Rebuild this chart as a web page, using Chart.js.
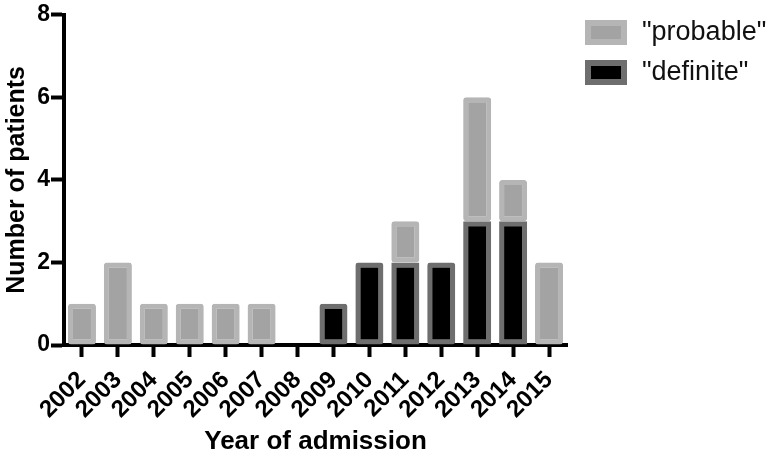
<!DOCTYPE html>
<html>
<head>
<meta charset="utf-8">
<script src="https://cdn.jsdelivr.net/npm/chart.js@4"></script>
<style>
  html, body { margin: 0; padding: 0; background: #fff; }
  #wrap { width: 774px; height: 457px; }
</style>
</head>
<body>
<div id="wrap"><canvas id="chart"></canvas></div>
<script>
const years = ['2002', '2003', '2004', '2005', '2006', '2007', '2008', '2009', '2010', '2011', '2012', '2013', '2014', '2015'];
const definite = [0, 0, 0, 0, 0, 0, 0, 1, 2, 2, 2, 3, 3, 0];
const probable = [1, 2, 1, 1, 1, 1, 0, 0, 0, 1, 0, 3, 1, 2];
const yTicks = [0, 2, 4, 6, 8];

const probFill = '#a3a3a3';
const probBorder = '#b5b5b5';
const defFill = '#000000';
const defBorder = '#6e6e6e';
const font = "'Liberation Sans', Arial, sans-serif";

// legend drawn by hand so the boxes and labels sit where the original has them
const sideLegend = {
  id: 'sideLegend',
  afterDraw(chart) {
    const ctx = chart.ctx;
    const items = [
      { text: '"probable"', fill: probFill, stroke: probBorder },
      { text: '"definite"', fill: defFill, stroke: defBorder }
    ];
    ctx.save();
    items.forEach((it, i) => {
      const y = 20 + i * 40;
      ctx.fillStyle = it.stroke;
      ctx.fillRect(585, y, 42, 25);
      ctx.fillStyle = it.fill;
      ctx.fillRect(591, y + 6, 30, 13);
      ctx.fillStyle = '#111';
      ctx.font = '27px ' + font;
      ctx.textBaseline = 'middle';
      ctx.fillText(it.text, 642, y + 13);
    });
    ctx.restore();
  }
};

const ctx = document.getElementById('chart').getContext('2d');
const chart = new Chart(ctx, {
  type: 'bar',
  data: {
    labels: years,
    datasets: [{
      label: '"definite"',
      data: definite,
      backgroundColor: defFill,
      borderColor: defBorder,
      borderWidth: 5,
      borderRadius: 3,
      borderSkipped: false,
      barPercentage: 0.78,
      categoryPercentage: 1
    }, {
      label: '"probable"',
      data: probable,
      backgroundColor: probFill,
      borderColor: probBorder,
      borderWidth: 5,
      borderRadius: 3,
      borderSkipped: false,
      barPercentage: 0.78,
      categoryPercentage: 1
    }]
  },
  options: {
    responsive: true,
    maintainAspectRatio: false,
    animation: false,
    layout: { padding: { top: 12, right: 207, left: 0, bottom: 0 } },
    plugins: {
      legend: { display: false },
      tooltip: { enabled: false }
    },
    scales: {
      x: {
        stacked: true,
        z: 1,
        grid: { display: true, drawOnChartArea: false, offset: false, tickLength: 12, tickWidth: 4, tickColor: '#000' },
        border: { display: true, color: '#000', width: 4 },
        ticks: {
          autoSkip: false, maxRotation: 45, minRotation: 45, padding: 9,
          color: '#000', font: { family: font, size: 24, weight: 'bold' }
        },
        title: {
          display: true, text: 'Year of admission', color: '#000', padding: { top: 4, bottom: 0 },
          font: { family: font, size: 26, weight: 'bold' }
        },
        afterFit(scale) { scale.height = 112; }
      },
      y: {
        stacked: true,
        z: 1,
        min: 0,
        max: 8,
        afterBuildTicks(scale) { scale.ticks = yTicks.map(v => ({ value: v })); },
        grid: { display: true, drawOnChartArea: false, tickLength: 13, tickWidth: 4, tickColor: '#000' },
        border: { display: true, color: '#000', width: 4 },
        ticks: {
          padding: 1, color: '#000',
          font: { family: font, size: 23, weight: 'bold' }
        },
        title: {
          display: true, text: 'Number of patients', color: '#000', padding: 2,
          font: { family: font, size: 25, weight: 'bold' }
        },
        afterFit(scale) { scale.width = 64; }
      }
    }
  },
  plugins: [sideLegend]
});
</script>
</body>
</html>
